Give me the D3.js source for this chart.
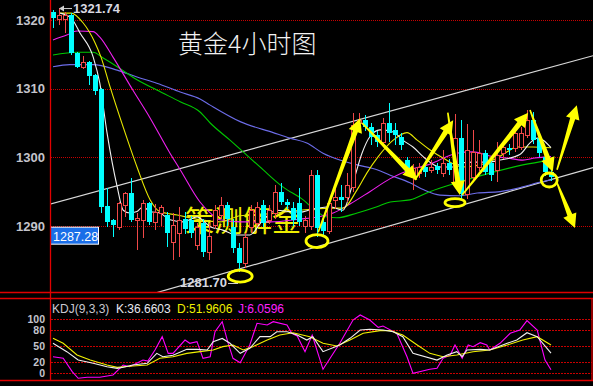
<!DOCTYPE html>
<html>
<head>
<meta charset="utf-8">
<script src="https://cdn.jsdelivr.net/npm/d3@7/dist/d3.min.js"></script>
<style>
  body { margin: 0; background: #000; }
  svg { display: block; }
</style>
</head>
<body>
<script>
const width = 593,
    height = 386;

// candles, one per 4h bar
const opens  = [1321.2,1320.2,1320.2,1320.7,1315.2,1313.2,1313.9,1312.0,1310.0,1292.9,
                1290.9,1289.9,1293.1,1294.8,1290.9,1290.9,1293.4,1290.6,1291.9,1291.6,
                1287.7,1289.0,1291.0,1290.9,1287.3,1290.4,1286.2,1290.2,1291.6,1293.0,
                1289.9,1286.8,1284.6,1289.9,1290.5,1293.1,1290.9,1291.9,1295.0,1293.5,
                1292.6,1293.4,1290.0,1290.0,1297.4,1290.6,1289.3,1293.8,1294.2,1294.2,
                1295.7,1305.0,1305.4,1304.4,1303.3,1302.2,1305.0,1304.0,1303.0,1299.6,
                1297.2,1297.7,1298.6,1298.2,1298.75,1297.7,1299.2,1296.4,1302.8,1294.6,
                1297.2,1298.6,1300.6,1299.2,1298.2,1300.6,1301.4,1301.4,1301.5,1303.3,
                1305.4,1302.8,1300.1,1297.9];
const highs  = [1321.5,1321.74,1321.2,1321.0,1315.3,1314.8,1314.0,1312.1,1310.1,1295.5,
                1291.0,1293.5,1295.0,1297.0,1291.9,1293.8,1293.5,1293.2,1293.1,1292.0,
                1291.9,1292.8,1292.0,1291.5,1290.5,1291.0,1290.4,1293.0,1294.2,1293.5,
                1291.0,1287.5,1289.0,1293.0,1293.5,1293.8,1293.0,1296.0,1296.2,1294.0,
                1293.5,1295.5,1291.5,1298.2,1298.2,1291.0,1294.0,1295.6,1296.0,1297.7,
                1306.4,1306.5,1306.2,1305.0,1303.8,1305.7,1307.9,1305.0,1303.5,1300.1,
                1299.0,1299.2,1299.5,1299.6,1299.2,1301.1,1299.8,1306.3,1305.4,1304.8,
                1304.0,1302.5,1301.0,1299.8,1302.2,1302.0,1302.0,1304.0,1304.4,1306.9,
                1306.6,1303.0,1300.5,1298.3];
const lows   = [1318.8,1319.3,1318.1,1314.9,1313.0,1312.9,1310.5,1309.1,1291.9,1289.9,
                1288.4,1289.4,1291.3,1290.6,1286.5,1288.3,1290.2,1289.4,1290.0,1287.0,
                1285.1,1285.5,1288.8,1288.3,1286.5,1285.5,1285.0,1289.5,1291.0,1290.0,
                1286.0,1283.3,1283.9,1289.0,1290.0,1289.8,1290.3,1291.0,1293.0,1292.5,
                1290.0,1290.0,1289.0,1289.4,1288.4,1288.6,1288.8,1292.5,1292.0,1293.5,
                1295.0,1304.5,1303.8,1301.8,1301.5,1301.8,1302.2,1301.8,1301.0,1297.4,
                1295.3,1297.0,1297.2,1297.7,1297.6,1297.2,1297.5,1296.0,1293.8,1294.0,
                1296.4,1298.0,1297.4,1296.5,1296.4,1299.8,1300.4,1300.8,1301.0,1302.8,
                1302.0,1300.0,1297.3,1296.5];
const closes = [1320.3,1320.7,1320.7,1315.2,1313.2,1313.9,1311.8,1309.7,1292.8,1290.6,
                1290.2,1293.4,1294.8,1290.9,1291.2,1293.4,1290.6,1292.0,1292.8,1289.0,
                1290.2,1290.9,1289.5,1289.0,1289.9,1286.2,1288.6,1292.3,1293.1,1291.0,
                1286.8,1284.6,1288.4,1292.3,1292.8,1290.5,1292.3,1295.0,1293.5,1293.1,
                1290.9,1290.6,1290.9,1297.4,1289.7,1289.3,1293.4,1294.2,1293.8,1296.0,
                1304.7,1305.4,1304.4,1303.0,1302.2,1305.0,1303.5,1303.3,1301.8,1297.9,
                1298.5,1298.6,1297.9,1298.6,1298.2,1299.2,1298.2,1302.8,1294.6,1301.1,
                1300.8,1300.6,1297.9,1297.4,1300.35,1301.5,1301.1,1303.5,1303.6,1305.4,
                1302.5,1300.6,1297.9,1297.2];

// moving averages as [bar position, price]
const maWhite = [[1.2,1321.0],[3,1320.3],[4.5,1318.1],[6.7,1314.6],[7.8,1310.8],[9,1303.6],[10.7,1295.7],
    [11.7,1292.3],[12.8,1291.9],[14,1292.1],[15,1292.8],[16.2,1292.1],[17.8,1291.9],[19.5,1290.9],
    [21.7,1290.6],[24,1291.3],[26.2,1289.9],[28.3,1289.4],[30.7,1288.7],[32.8,1288.7],[35,1290.9],
    [37.3,1292.3],[39.5,1292.1],[41.2,1292.0],[43,1292.4],[46.2,1292.8],[48.3,1292.3],[50,1296.3],
    [51.5,1300.6],[52.8,1303.0],[54.5,1304.0],[56.7,1303.7],[58.3,1302.5],[60,1301.5],[61.7,1300.1],
    [62.8,1299.3],[64.5,1298.6],[66.7,1298.6],[68.3,1299.2],[70,1299.3],[72.3,1299.3],[74.5,1299.6],
    [77.8,1300.4],[79.5,1302.1],[80.7,1302.8],[81.7,1302.5],[83,1301.4]];
const maYellow = [[1,1321.0],[3,1321.0],[5,1319.6],[7,1316.7],[8,1314.6],[9.5,1310.3],[11.7,1304.4],
    [14,1298.6],[16.2,1293.8],[17.8,1292.1],[20.7,1291.6],[24.5,1290.9],[27.8,1290.6],[31.2,1291.5],
    [36.2,1291.8],[41.2,1292.3],[46.2,1292.6],[48.3,1292.6],[50.7,1295.3],[52.3,1297.7],[54.2,1300.1],
    [56.7,1302.5],[59,1303.6],[60.7,1302.5],[62.8,1301.1],[65,1299.9],[68.3,1298.6],[71.2,1298.9],
    [74,1299.9],[75.7,1300.8],[77.3,1301.5],[80,1301.5],[83,1301.4]];
const maMagenta = [[0,1317.1],[2.3,1317.8],[4,1318.4],[6.7,1318.3],[7.8,1317.5],[10,1314.6],[13.3,1309.8],
    [16.2,1305.7],[19.5,1300.6],[21.2,1298.2],[24.5,1293.5],[26.2,1291.9],[27.8,1290.9],[31.2,1290.6],
    [36.2,1290.6],[41.2,1291.0],[44,1291.3],[46.7,1291.9],[49.5,1293.2],[52.8,1295.0],[56.2,1296.9],
    [59.5,1298.2],[62.8,1299.0],[67.3,1300.6],[70,1300.8],[72.8,1300.2],[75.7,1299.9],[78.3,1299.6],
    [80.3,1299.9],[83,1300.1]];
const maGreen = [[0,1314.9],[4,1315.3],[6.7,1315.3],[8.3,1314.5],[10.7,1313.2],[14,1311.3],[17.3,1309.8],
    [21.2,1308.1],[24.5,1306.6],[26.2,1305.0],[29.5,1302.5],[31.7,1300.8],[35,1298.2],[38.3,1295.7],
    [41.7,1293.8],[43.3,1292.6],[45.7,1291.3],[47.3,1291.2],[50.7,1291.9],[54,1292.8],[56.2,1293.5],
    [59.5,1293.8],[62.8,1295.0],[67.3,1296.3],[72.8,1297.7],[78.3,1298.9],[83,1299.6]];
const maBlue = [[0,1313.2],[2.8,1313.5],[6.7,1313.5],[10.7,1312.7],[14,1311.7],[17.3,1310.8],[21.2,1309.5],
    [24.5,1308.5],[26.2,1307.6],[31.2,1305.2],[36.7,1303.6],[39.5,1302.8],[42.3,1302.1],[45,1300.6],
    [47.8,1299.6],[50.7,1298.9],[54,1298.2],[56.2,1297.4],[59.5,1296.3],[61.7,1295.3],[64.5,1294.5],
    [67.8,1294.4],[70.7,1294.8],[74.5,1295.0],[78.3,1295.7],[81.2,1296.4],[83,1296.7]];

// KDJ(9,3,3) as [bar position, value]
const kdjK = [[0,55],[2.3,39.5],[4.2,24],[6.7,18],[9,11.7],[10.7,8.6],[11.7,10.5],[13.3,14.8],[15.7,18],
    [17.3,36.4],[18.3,30],[20,33],[22.3,43.8],[24,43.8],[25.7,42.6],[26.7,58],[28.2,64],[29.5,55],
    [31.2,36.4],[32.8,45.7],[34.5,67.3],[36.2,67.3],[37.3,76.5],[39,76.5],[40.7,70.4],[42.3,61],
    [43.3,67.3],[45,39.5],[47.8,51.9],[49.5,64.2],[51.2,79.6],[52.8,80.9],[55,79.6],[56.7,76.5],
    [58.3,67.3],[60,36.4],[64,24],[65.7,33.3],[67.3,39.5],[68.2,30.2],[69,42.6],[71.2,43.8],
    [72.8,42.6],[75.7,55],[77.3,61],[79,74.6],[80.7,67.3],[83,36.6603]];
const kdjD = [[0,64.2],[1.7,55],[4,33.3],[6.2,24],[9,14.8],[10.7,10.5],[13.3,13],[15.7,14.8],[17.8,27.2],
    [20,30.2],[22.3,36.4],[24.5,39.5],[26.7,42.6],[28.3,48.8],[30,51.9],[31.7,42.6],[33.3,48.8],
    [35.7,61],[37.8,70.4],[40,74.6],[42.8,67.3],[45,55],[47.3,50],[49.5,61],[51.7,73.5],[54.5,78.4],
    [56.2,78.4],[58.3,70.4],[60.7,51.9],[62.8,36.4],[65,30.2],[67.3,33.3],[70,39.5],[72.8,42.6],
    [75.7,51.9],[78.3,61],[80.7,67.3],[83,51.9606]];
const kdjJ = [[0,30.2],[1.7,27.2],[3.2,2.5],[4.2,-9.8],[5.7,-8],[7.8,-8],[10,-3.7],[11.7,14.8],[12.8,11.7],
    [15,24],[15.8,22.2],[17,42.6],[18.2,67.3],[19.2,36.4],[20,36.4],[22,61],[22.8,55],[24,58],[25,27.2],
    [26.2,30.2],[27,76.5],[28.2,95],[29.2,55],[30,27.2],[31.2,19],[32.8,51.9],[34,92],[35.7,88.9],
    [36.7,95],[39,88.9],[39.8,73.5],[40.7,68.5],[42,39.5],[43.2,70.4],[45,6.8],[47.8,55],[50,98],
    [51.2,107.4],[52.8,98],[54.2,84.6],[55,87],[57.3,73.5],[59,30.2],[60,-0.6],[62.8,6.8],[64,8.6],
    [65,27.2],[66.2,33.3],[67,51.9],[68.2,27.2],[69.2,51.9],[70,48.8],[71.2,56.2],[72.3,51.9],
    [72.8,42.6],[74.5,55],[76.2,73.5],[77.8,79.6],[79,96.9],[80.7,79.6],[82,24],[83,6.0596]];
const kdjLast = { K: '36.6603', D: '51.9606', J: '6.0596' };

const priceTicks = [1290, 1300, 1310, 1320];
const kdjTicks = [0, 20, 50, 80, 100];

// trend channel, [bar position, price]
const channelUpper = [[-0.5, 1293.2], [90, 1314.8]];
const channelLower = [[16.5, 1280.1], [90, 1298.5]];

// hand-drawn arrows and rings
const arrows = [
    [[44.2, 1289.1], [51.2, 1305.7]],
    [[51.5, 1305.0], [60.7, 1296.7]],
    [[60.3, 1296.7], [66.7, 1305.4]],
    [[65.8, 1306.5], [67.8, 1294.5]],
    [[68.2, 1294.5], [79.2, 1306.5]],
    [[79.5, 1306.9], [83.3, 1297.9]],
    [[84, 1298.2], [87.3, 1307.6]],
    [[84, 1296.3], [87, 1289.7]]
];
const rings = [[31.2, 1282.7], [44, 1287.8], [67, 1293.4], [82.7, 1296.7]];
const ringRadii = [[12, 6], [11, 6.5], [10, 4], [8, 7]];

const highMark = { i: 1, value: 1321.74 };
const lowMark = { i: 31, value: 1281.70 };
const lastPrice = 1287.28;

const x = d3.scaleLinear().domain([0, 83]).range([53, 551]),
    y = d3.scaleLinear().domain([1290, 1320]).range([226, 20]),
    yk = d3.scaleLinear().domain([0, 100]).range([373, 319]);

const RED = '#f04848', CYAN = '#00ffff', BORDER = '#e00000', GRID = '#c80000';
const numFont = '"Liberation Sans", Arial, sans-serif';

const svg = d3.select('body').append('svg')
    .attr('width', width)
    .attr('height', height)
    .style('background', '#000');

const defs = svg.append('defs');
defs.append('clipPath').attr('id', 'clipPrice')
    .append('rect').attr('x', 51).attr('y', 0).attr('width', 542).attr('height', 292);
defs.append('clipPath').attr('id', 'clipKdj')
    .append('rect').attr('x', 51).attr('y', 299).attr('width', 540).attr('height', 80);

// grid
svg.append('g').selectAll('line').data(priceTicks).join('line')
    .attr('x1', 51).attr('x2', width)
    .attr('y1', d => Math.round(y(d)) + 0.5).attr('y2', d => Math.round(y(d)) + 0.5)
    .attr('stroke', GRID).attr('stroke-dasharray', '1,1');
svg.append('g').selectAll('line').data(kdjTicks).join('line')
    .attr('x1', 51).attr('x2', 592)
    .attr('y1', d => Math.round(yk(d)) + 0.5).attr('y2', d => Math.round(yk(d)) + 0.5)
    .attr('stroke', GRID).attr('stroke-dasharray', '2,1');

// axes (labels only)
const styleAxis = (g, size) => {
    g.select('.domain').remove();
    g.selectAll('text')
        .attr('fill', '#c4c4cc')
        .style('font-family', numFont)
        .style('font-weight', 'bold')
        .style('font-size', size + 'px');
};
svg.append('g').attr('transform', 'translate(46,0)')
    .call(d3.axisLeft(y).tickValues(priceTicks).tickFormat(d3.format('d')).tickSize(0).tickPadding(1))
    .call(g => styleAxis(g, 13));
svg.append('g').attr('transform', 'translate(46,0)')
    .call(d3.axisLeft(yk).tickValues(kdjTicks).tickFormat(d3.format('d')).tickSize(0).tickPadding(1))
    .call(g => styleAxis(g, 10.5));

// title + watermark
svg.append('text')
    .attr('x', 178).attr('y', 53)
    .attr('fill', '#f2f2f2')
    .style('font-family', '"Noto Sans CJK SC", sans-serif')
    .style('font-weight', 300)
    .style('font-size', '25px')
    .text('黄金4小时图');

const plot = svg.append('g').attr('clip-path', 'url(#clipPrice)');

plot.append('text')
    .attr('x', 185).attr('y', 232)
    .attr('fill', '#eeee00')
    .style('font-family', '"Noto Sans CJK SC", sans-serif')
    .style('font-weight', 400)
    .style('font-size', '29px')
    .text('策测解金');

// channel
[channelUpper, channelLower].forEach(pts => {
    plot.append('line')
        .attr('x1', x(pts[0][0])).attr('y1', y(pts[0][1]))
        .attr('x2', x(pts[1][0])).attr('y2', y(pts[1][1]))
        .attr('stroke', '#d8d8d8').attr('stroke-width', 1.2);
});

// moving averages
const maLine = d3.line().x(d => x(d[0])).y(d => y(d[1])).curve(d3.curveMonotoneX);
[[maBlue, '#6c6ce8'], [maGreen, '#00c800'], [maMagenta, '#f020f0'], [maYellow, '#e8e800'], [maWhite, '#f0f0f0']]
    .forEach(([pts, c]) => {
        plot.append('path').datum(pts)
            .attr('d', maLine)
            .attr('fill', 'none').attr('stroke', c).attr('stroke-width', 1.1);
    });

// candles
const bars = d3.range(opens.length).map(i => ({ i, o: opens[i], h: highs[i], l: lows[i], c: closes[i] }));
const candle = plot.append('g').selectAll('g').data(bars).join('g');
candle.each(function (d) {
    const g = d3.select(this);
    const cx = Math.round(x(d.i));
    const up = d.c >= d.o;
    const col = up ? RED : CYAN;
    const top = Math.round(y(Math.max(d.o, d.c))), bot = Math.round(y(Math.min(d.o, d.c)));
    const hi = Math.round(y(d.h)), lo = Math.round(y(d.l));
    if (up) {
        g.append('line').attr('x1', cx + 0.5).attr('x2', cx + 0.5).attr('y1', hi).attr('y2', top).attr('stroke', col);
        g.append('line').attr('x1', cx + 0.5).attr('x2', cx + 0.5).attr('y1', Math.max(bot, top + 1)).attr('y2', lo).attr('stroke', col);
        g.append('rect').attr('x', cx - 1.5).attr('y', top + 0.5)
            .attr('width', 4).attr('height', Math.max(1, bot - top))
            .attr('fill', '#000').attr('stroke', col);
    } else {
        g.append('line').attr('x1', cx + 0.5).attr('x2', cx + 0.5).attr('y1', hi).attr('y2', lo).attr('stroke', col);
        g.append('rect').attr('x', cx - 2).attr('y', top)
            .attr('width', 5).attr('height', Math.max(1, bot - top))
            .attr('fill', col);
    }
});

// arrows
function arrowPath(a, b) {
    const x1 = x(a[0]), y1 = y(a[1]), x2 = x(b[0]), y2 = y(b[1]);
    const dx = x2 - x1, dy = y2 - y1, L = Math.hypot(dx, dy);
    const ux = dx / L, uy = dy / L, nx = -uy, ny = ux;
    const headL = 14, headW = 7, neckW = 2.6, tailW = 0.8;
    const bx = x2 - ux * headL, by = y2 - uy * headL;
    const p = d3.path();
    p.moveTo(x1 + nx * tailW, y1 + ny * tailW);
    p.lineTo(bx + nx * neckW, by + ny * neckW);
    p.lineTo(bx + nx * headW, by + ny * headW);
    p.lineTo(x2, y2);
    p.lineTo(bx - nx * headW, by - ny * headW);
    p.lineTo(bx - nx * neckW, by - ny * neckW);
    p.lineTo(x1 - nx * tailW, y1 - ny * tailW);
    p.closePath();
    return p.toString();
}
svg.append('g').selectAll('path').data(arrows).join('path')
    .attr('d', d => arrowPath(d[0], d[1]))
    .attr('fill', '#ffff00');

svg.append('g').selectAll('ellipse').data(rings).join('ellipse')
    .attr('cx', d => x(d[0])).attr('cy', d => y(d[1]))
    .attr('rx', (d, i) => ringRadii[i][0]).attr('ry', (d, i) => ringRadii[i][1])
    .attr('fill', 'none').attr('stroke', '#ffff00').attr('stroke-width', 2.8);

// high / low marks
const hx = x(highMark.i), hy = y(highMark.value);
svg.append('line').attr('x1', hx + 1).attr('x2', hx + 13).attr('y1', hy + 0.5).attr('y2', hy + 0.5)
    .attr('stroke', '#d0d0d0');
svg.append('path').attr('d', `M${hx},${hy + 0.5}l5,-3l0,6z`).attr('fill', '#d0d0d0');
svg.append('text').attr('x', hx + 14).attr('y', hy + 5)
    .attr('fill', '#d8d8e0').style('font-family', numFont).style('font-weight', 'bold').style('font-size', '13px')
    .text(highMark.value.toFixed(2));

const lx = x(lowMark.i), ly = y(lowMark.value);
svg.append('text').attr('x', lx - 12).attr('y', ly + 4.5).attr('text-anchor', 'end')
    .attr('fill', '#d8d8e0').style('font-family', numFont).style('font-weight', 'bold').style('font-size', '13px')
    .text(lowMark.value.toFixed(2));
svg.append('line').attr('x1', lx - 11).attr('x2', lx - 1).attr('y1', ly + 0.5).attr('y2', ly + 0.5)
    .attr('stroke', '#d0d0d0');

// last price box
const py = y(lastPrice);
svg.append('rect').attr('x', 50.5).attr('y', py - 17.5).attr('width', 48).attr('height', 17)
    .attr('fill', '#1a6ee8').attr('stroke', '#fff');
svg.append('text').attr('x', 53).attr('y', py - 4)
    .attr('fill', '#fff').style('font-family', numFont).style('font-size', '12.5px')
    .text(lastPrice.toFixed(2));

// KDJ
const kdjG = svg.append('g').attr('clip-path', 'url(#clipKdj)');
const kLine = d3.line().x(d => x(d[0])).y(d => yk(d[1]));
[[kdjJ, '#ff00ff'], [kdjD, '#f0f000'], [kdjK, '#f0f0f0']].forEach(([pts, c]) => {
    kdjG.append('path').datum(pts).attr('d', kLine)
        .attr('fill', 'none').attr('stroke', c).attr('stroke-width', 1.1);
});

const hdr = [['KDJ(9,3,3)', '#c8c8d0', 52], ['K:' + kdjLast.K, '#e8e8f0', 116],
             ['D:' + kdjLast.D, '#f0f000', 177], ['J:' + kdjLast.J, '#ff20ff', 238]];
svg.append('g').selectAll('text').data(hdr).join('text')
    .attr('x', d => d[2]).attr('y', 313)
    .attr('fill', d => d[1])
    .style('font-family', numFont).style('font-size', '12px')
    .text(d => d[0]);

// panel borders
const border = svg.append('g').attr('stroke', BORDER).attr('stroke-width', 1.3);
border.append('line').attr('x1', 50.5).attr('x2', 50.5).attr('y1', 0).attr('y2', 381);
border.append('line').attr('x1', 0).attr('x2', width).attr('y1', 292.5).attr('y2', 292.5);
border.append('line').attr('x1', 0).attr('x2', width).attr('y1', 298.5).attr('y2', 298.5);
border.append('line').attr('x1', 0).attr('x2', width).attr('y1', 380.5).attr('y2', 380.5);
border.append('line').attr('x1', 592).attr('x2', 592).attr('y1', 298).attr('y2', 381);
</script>
</body>
</html>
